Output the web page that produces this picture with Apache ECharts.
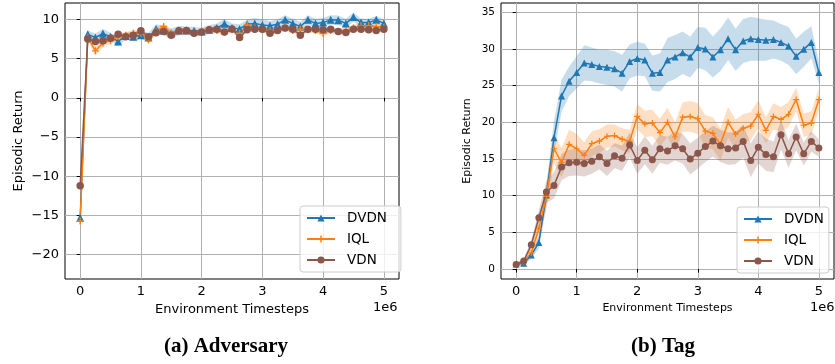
<!DOCTYPE html>
<html>
<head>
<meta charset="utf-8">
<script src="https://cdn.jsdelivr.net/npm/echarts@6/dist/echarts.min.js"></script>
<style>
  html, body { margin: 0; padding: 0; background: #fff; }
  #main { width: 835px; height: 364px; }
</style>
</head>
<body>
<div id="main"></div>
<script>
// timesteps (x 1e6)
var steps = [0, 0.125, 0.25, 0.375, 0.5, 0.625, 0.75, 0.875, 1, 1.125, 1.25, 1.375, 1.5, 1.625, 1.75, 1.875,
  2, 2.125, 2.25, 2.375, 2.5, 2.625, 2.75, 2.875, 3, 3.125, 3.25, 3.375, 3.5, 3.625, 3.75, 3.875,
  4, 4.125, 4.25, 4.375, 4.5, 4.625, 4.75, 4.875, 5];
var xTicks = [0, 1, 2, 3, 4, 5];
var yTicksAdv = [-20, -15, -10, -5, 0, 5, 10];
var yTicksTag = [0, 5, 10, 15, 20, 25, 30, 35];

// (a) Adversary
var advDVDN = [-15.3, 8.1, 7.7, 8.2, 7.8, 7.2, 7.9, 7.8, 8.0, 7.7, 8.8, 8.6, 8.25, 8.6, 8.6, 8.55, 8.45, 8.7, 8.9, 9.45, 8.9,
  8.8, 9.4, 9.5, 9.3, 9.2, 9.4, 9.95, 9.5, 9.1, 9.95, 9.5, 9.6, 9.95, 9.9, 9.5, 10.3, 9.6, 9.6, 9.95, 9.5];
var advIQL = [-15.7, 7.7, 6.0, 7.0, 7.3, 7.8, 8.0, 8.25, 8.25, 7.4, 8.45, 9.1, 8.25, 8.45, 8.45, 8.25, 8.45, 8.7, 8.6, 8.35, 8.7,
  8.25, 9.3, 8.9, 8.7, 8.6, 8.75, 8.9, 8.6, 8.75, 8.7, 8.6, 8.25, 8.6, 8.45, 8.6, 8.9, 9.2, 9.2, 9.1, 9.0];
var advVDN = [-11.2, 7.5, 7.2, 7.3, 7.6, 8.1, 7.8, 8.0, 8.55, 7.8, 8.3, 8.45, 8.0, 8.55, 8.6, 8.25, 8.4, 8.7, 8.75, 8.4, 8.8,
  7.7, 8.7, 8.75, 8.75, 8.25, 8.6, 8.9, 8.75, 8.0, 8.75, 8.75, 8.7, 8.75, 8.45, 8.35, 8.75, 8.75, 8.7, 8.6, 8.75];
var advDVDNStd = [0.4, 0.5, 0.5, 0.6, 0.5, 0.6, 0.5, 0.5, 0.5, 0.6, 0.6, 0.6, 0.6, 0.6, 0.5, 0.5, 0.5, 0.6, 0.6, 0.6, 0.6,
  0.6, 0.6, 0.7, 0.7, 0.6, 0.6, 0.6, 0.6, 0.6, 0.6, 0.6, 0.6, 0.6, 0.6, 0.6, 0.6, 0.5, 0.5, 0.5, 0.5];
var advIQLStd = [0.5, 0.4, 0.6, 0.5, 0.4, 0.4, 0.4, 0.4, 0.4, 0.5, 0.4, 0.4, 0.4, 0.4, 0.4, 0.4, 0.4, 0.4, 0.4, 0.4, 0.4,
  0.4, 0.4, 0.4, 0.4, 0.4, 0.4, 0.4, 0.4, 0.4, 0.4, 0.4, 0.4, 0.4, 0.4, 0.4, 0.4, 0.4, 0.4, 0.4, 0.4];
var advVDNStd = [0.5, 0.3, 0.3, 0.3, 0.3, 0.3, 0.3, 0.3, 0.3, 0.3, 0.3, 0.3, 0.3, 0.3, 0.3, 0.3, 0.3, 0.3, 0.3, 0.3, 0.3,
  0.3, 0.3, 0.3, 0.3, 0.3, 0.3, 0.3, 0.3, 0.3, 0.3, 0.3, 0.3, 0.3, 0.3, 0.3, 0.3, 0.3, 0.3, 0.3, 0.3];

// (b) Tag
var tagDVDN = [0.7, 0.8, 1.9, 3.6, 10.1, 17.9, 23.6, 25.6, 26.8, 28.1, 27.9, 27.6, 27.5, 27.3, 26.7, 28.3, 28.7, 28.5, 26.7, 26.8,
  28.5, 28.9, 29.5, 28.9, 30.2, 30.0, 28.9, 29.9, 31.4, 29.9, 31.1, 31.4, 31.3, 31.2, 31.3, 30.9, 30.4, 29.0, 29.95, 30.9, 26.8];
var tagIQL = [0.6, 1.0, 2.2, 5.5, 9.9, 16.4, 14.5, 17.0, 16.4, 15.5, 17.1, 17.45, 18.1, 18.2, 17.7, 17.4, 20.8, 19.8, 19.9, 18.6,
  20.0, 18.0, 20.7, 20.8, 20.5, 18.8, 18.5, 17.0, 20.0, 18.4, 19.2, 19.5, 21.1, 18.9, 20.8, 20.4, 21.1, 23.1, 19.6, 19.9, 23.1];
var tagVDN = [0.6, 1.1, 3.3, 7.0, 10.5, 11.4, 13.9, 14.5, 14.55, 14.4, 14.7, 15.3, 14.4, 15.45, 15.1, 16.9, 14.8, 16.2, 14.9, 16.4,
  16.1, 16.8, 16.4, 15.0, 15.8, 16.7, 17.45, 16.8, 16.4, 16.5, 17.4, 14.8, 16.6, 15.6, 15.3, 18.3, 15.7, 18.0, 15.7, 17.4, 16.5];
var tagDVDNStd = [0.3, 0.3, 0.5, 0.8, 1.5, 2.2, 2.2, 2.0, 2.2, 2.4, 2.3, 2.3, 2.4, 2.4, 2.5, 2.3, 2.3, 2.2, 2.4, 2.6,
  3.0, 3.0, 2.9, 2.8, 2.8, 2.9, 2.8, 2.9, 2.9, 2.9, 3.0, 3.0, 2.9, 2.8, 2.6, 2.5, 2.6, 2.4, 2.4, 2.2, 1.5];
var tagIQLStd = [0.2, 0.3, 0.6, 1.2, 1.8, 2.0, 2.0, 2.0, 2.0, 1.8, 1.7, 1.6, 1.6, 1.5, 1.5, 1.6, 1.7, 1.8, 1.8, 1.9,
  2.0, 2.0, 2.0, 2.1, 2.1, 2.2, 2.2, 2.2, 2.1, 2.0, 1.9, 1.9, 1.9, 1.8, 1.8, 1.7, 1.7, 1.6, 1.6, 1.6, 1.5];
var tagVDNStd = [0.2, 0.3, 0.6, 1.0, 1.5, 1.8, 1.8, 1.8, 1.8, 1.8, 1.7, 1.7, 1.7, 1.7, 1.7, 1.7, 1.8, 1.9, 1.9, 1.9,
  1.9, 2.0, 2.0, 2.1, 2.1, 2.1, 2.1, 2.2, 2.2, 2.2, 2.2, 2.3, 2.2, 2.2, 2.1, 2.0, 1.9, 1.8, 1.6, 1.4, 1.2];

var blue = "#1f77b4", orange = "#ff7f0e", brown = "#8c564b";
var plusIcon = "path://M4,0H6V4H10V6H6V10H4V6H0V4H4Z";
var font = "DejaVu Sans";

var myChart = echarts.init(document.getElementById("main"));

function pairs(ys) {
  return steps.map(function (x, i) { return [x, ys[i]]; });
}

// shaded mean +- std band, drawn as one polygon through the axis scales
function band(mean, std, color, gi) {
  return {
    type: "custom",
    xAxisIndex: gi,
    yAxisIndex: gi,
    z: 1,
    silent: true,
    clip: true,
    data: pairs(mean),
    renderItem: function (params, api) {
      if (params.dataIndex !== 0) return;
      var top = [], bot = [];
      for (var i = 0; i < steps.length; i++) {
        top.push(api.coord([steps[i], mean[i] + std[i]]));
        bot.push(api.coord([steps[i], mean[i] - std[i]]));
      }
      return {
        type: "polygon",
        shape: { points: top.concat(bot.reverse()) },
        style: { fill: color, opacity: 0.25 }
      };
    }
  };
}

function line(name, ys, color, symbol, size, gi) {
  return {
    name: name,
    type: "line",
    xAxisIndex: gi,
    yAxisIndex: gi,
    z: 3,
    data: pairs(ys),
    symbol: symbol,
    symbolSize: size,
    showAllSymbol: true,
    lineStyle: { color: color, width: 1.5 },
    itemStyle: { color: color },
    animation: false
  };
}

function minus(v) {
  return v < 0 ? "\u2212" + Math.abs(v) : String(v);
}

function xAxisCfg(gi, nameSize) {
  return {
    type: "value",
    gridIndex: gi,
    min: -0.25,
    max: 5.25,
    name: "Environment Timesteps",
    nameLocation: "middle",
    nameGap: 24,
    nameTextStyle: { fontFamily: font, fontSize: nameSize, color: "#000" },
    axisLine: { show: false },
    axisTick: { show: true, length: 3.5, customValues: xTicks, lineStyle: { color: "#000" } },
    axisLabel: { customValues: xTicks, fontFamily: font, fontSize: 13, color: "#000", margin: 6 },
    splitLine: { show: true, lineStyle: { color: "#b0b0b0", width: 1 } }
  };
}

function yAxisCfg(gi, min, max, ticks, labelSize, nameSize, nameGap) {
  return {
    type: "value",
    gridIndex: gi,
    min: min,
    max: max,
    name: "Episodic Return",
    nameLocation: "middle",
    nameGap: nameGap,
    nameTextStyle: { fontFamily: font, fontSize: nameSize, color: "#000" },
    axisLine: { show: false },
    axisTick: { show: true, length: 3.5, customValues: ticks, lineStyle: { color: "#000" } },
    axisLabel: { customValues: ticks, fontFamily: font, fontSize: labelSize, color: "#000", margin: 6, formatter: minus },
    splitLine: { show: true, lineStyle: { color: "#b0b0b0", width: 1 } }
  };
}

function legendCfg(left, top, padRight) {
  return {
    orient: "vertical",
    left: left,
    top: top,
    data: ["DVDN", "IQL", "VDN"],
    itemWidth: 28,
    itemHeight: 9,
    itemGap: 7,
    padding: [5, padRight, 5, 6],
    backgroundColor: "rgba(255,255,255,0.8)",
    borderColor: "#cccccc",
    borderWidth: 1,
    borderRadius: 3,
    selectedMode: false,
    textStyle: { fontFamily: font, fontSize: 13.5, color: "#000", padding: [0, 0, 0, 7] }
  };
}

var option = {
  animation: false,
  grid: [
    { left: 65, right: 436, top: 3, bottom: 85, show: true, borderColor: "#000", borderWidth: 1, backgroundColor: "transparent" },
    { left: 501, right: 1, top: 3, bottom: 85, show: true, borderColor: "#000", borderWidth: 1, backgroundColor: "transparent" }
  ],
  xAxis: [xAxisCfg(0, 13), xAxisCfg(1, 11)],
  yAxis: [
    yAxisCfg(0, -23.1, 12.1, yTicksAdv, 13, 13, 40),
    yAxisCfg(1, -1.36, 36.27, yTicksTag, 10.5, 11, 28)
  ],
  legend: [legendCfg(300, 206, 14), legendCfg(737, 207, 5)],
  graphic: [
    { type: "text", left: 373, top: 301, style: { text: "1e6", font: "13px DejaVu Sans", fill: "#000" } },
    { type: "text", left: 810, top: 301, style: { text: "1e6", font: "13px DejaVu Sans", fill: "#000" } },
    { type: "text", x: 226, y: 347, style: { text: "(a) Adversary", font: "bold 21px 'Liberation Serif'", fill: "#000", align: "center", verticalAlign: "middle" } },
    { type: "text", x: 663, y: 347, style: { text: "(b) Tag", font: "bold 21px 'Liberation Serif'", fill: "#000", align: "center", verticalAlign: "middle" } }
  ],
  series: [
    line("DVDN", advDVDN, blue, "triangle", 8, 0),
    line("IQL", advIQL, orange, plusIcon, 7, 0),
    line("VDN", advVDN, brown, "circle", 7.5, 0),
    line("DVDN", tagDVDN, blue, "triangle", 7, 1),
    line("IQL", tagIQL, orange, plusIcon, 6, 1),
    line("VDN", tagVDN, brown, "circle", 7, 1),
    band(advDVDN, advDVDNStd, blue, 0),
    band(advIQL, advIQLStd, orange, 0),
    band(advVDN, advVDNStd, brown, 0),
    band(tagDVDN, tagDVDNStd, blue, 1),
    band(tagIQL, tagIQLStd, orange, 1),
    band(tagVDN, tagVDNStd, brown, 1)
  ]
};
myChart.setOption(option);
</script>
</body>
</html>
